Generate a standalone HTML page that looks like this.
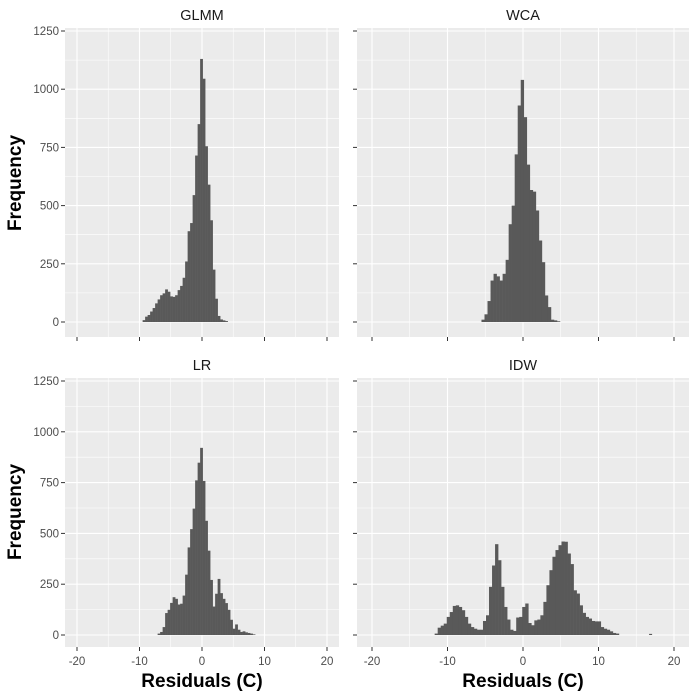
<!DOCTYPE html>
<html><head><meta charset="utf-8"><style>
html,body{margin:0;padding:0;background:#fff;}
svg{display:block;font-family:"Liberation Sans",Arial,sans-serif;}
</style></head><body>
<svg id="chart" width="699" height="698" viewBox="0 0 699 698" xmlns="http://www.w3.org/2000/svg"></svg>
<script>
const binWidth = 0.4;
const panelNames = ["GLMM","WCA","LR","IDW"];
const glmmStart = -9.3;
const glmmCounts = [8,23,30,45,60,80,97,115,123,140,130,110,108,115,137,155,190,260,390,425,545,715,850,1130,1045,755,590,437,225,100,26,11,7,4];
const wcaStart = -5.3;
const wcaCounts = [10,33,90,178,207,196,178,207,267,420,500,720,930,1040,880,676,567,560,479,350,257,114,64,10,7,3];
const lrStart = -6.9;
const lrCounts = [7,15,39,108,124,158,186,178,150,154,194,297,431,521,622,761,848,921,758,562,415,271,140,203,276,206,178,157,124,75,31,52,26,15,18,13,10,7,3];
const idwStart = -11.5;
const idwCounts = [7,36,46,56,89,113,143,146,138,122,89,56,39,31,26,26,69,97,237,342,447,368,237,138,76,26,20,86,89,138,155,59,48,72,76,97,163,245,319,385,418,442,460,459,401,349,220,204,146,109,89,81,69,67,67,39,31,26,18,10,7];
const idwOutlierX = [16.9];
const idwOutlierCount = [3];
const xTicks = [-20,-10,0,10,20];
const xMinor = [-15,-5,5,15];
const yTicks = [0,250,500,750,1000,1250];
const yMinor = [125,375,625,875,1125];

const NS="http://www.w3.org/2000/svg";
const svg=document.getElementById('chart');
function mk(tag,attrs,parent){const e=document.createElementNS(NS,tag);for(const k in attrs)e.setAttribute(k,attrs[k]);(parent||svg).appendChild(e);return e;}

const panels=[
 {name:panelNames[0],start:glmmStart,counts:glmmCounts,x0:65,x1:339,y0:28,y1:337,zero:202,xs:6.25,base:322,ys:291/1250,showX:false,showY:true},
 {name:panelNames[1],start:wcaStart,counts:wcaCounts,x0:357,x1:689,y0:28,y1:337,zero:523,xs:7.55,base:322,ys:291/1250,showX:false,showY:false},
 {name:panelNames[2],start:lrStart,counts:lrCounts,x0:65,x1:339,y0:378,y1:647,zero:202,xs:6.25,base:635,ys:254/1250,showX:true,showY:true},
 {name:panelNames[3],start:idwStart,counts:idwCounts,x0:357,x1:689,y0:378,y1:647,zero:523,xs:7.55,base:635,ys:254/1250,showX:true,showY:false,outX:idwOutlierX,outC:idwOutlierCount}
];

panels.forEach(p=>{
  const sx=v=>p.zero+v*p.xs;
  const sy=v=>p.base-v*p.ys;
  const slug=p.name.toLowerCase();
  const g=mk('g',{});
  
  
  const bg=mk('rect',{x:p.x0,y:p.y0,width:p.x1-p.x0,height:p.y1-p.y0,fill:'#EBEBEB'},g);
  
  
  xMinor.forEach(v=>mk('line',{x1:sx(v),x2:sx(v),y1:p.y0,y2:p.y1,stroke:'#fff','stroke-width':0.55},g));
  yMinor.forEach(v=>mk('line',{x1:p.x0,x2:p.x1,y1:sy(v),y2:sy(v),stroke:'#fff','stroke-width':0.55},g));
  xTicks.forEach(v=>mk('line',{x1:sx(v),x2:sx(v),y1:p.y0,y2:p.y1,stroke:'#fff','stroke-width':1.1},g));
  yTicks.forEach(v=>mk('line',{x1:p.x0,x2:p.x1,y1:sy(v),y2:sy(v),stroke:'#fff','stroke-width':1.1},g));
  p.counts.forEach((c,i)=>{
    const left=p.start+i*binWidth-binWidth/2;
    const r=mk('rect',{x:sx(left),y:sy(c),width:binWidth*p.xs+0.3,height:c*p.ys,fill:'#595959'},g);
    
    
  });
  if(p.outX){p.outX.forEach((v,i)=>{
    const r=mk('rect',{x:sx(v-binWidth/2),y:sy(p.outC[i])-0.5,width:binWidth*p.xs,height:p.outC[i]*p.ys+0.5,fill:'#595959'},g);
    
    
  });}
  // strip title
  const t=mk('text',{x:(p.x0+p.x1)/2,y:p.y0-8,'text-anchor':'middle','font-size':14.5,fill:'#1A1A1A'},g);
  t.textContent=p.name;
  
  
  // ticks
  xTicks.forEach(v=>{
    mk('line',{x1:sx(v),x2:sx(v),y1:p.y1,y2:p.y1+4,stroke:'#333','stroke-width':1},g);
    if(p.showX){
      const l=mk('text',{x:sx(v),y:p.y1+18,'text-anchor':'middle','font-size':11.5,fill:'#4D4D4D'},g);
      l.textContent=v;
      
      
    }
  });
  yTicks.forEach(v=>{
    mk('line',{x1:p.x0-4,x2:p.x0,y1:sy(v),y2:sy(v),stroke:'#333','stroke-width':1},g);
    if(p.showY){
      const l=mk('text',{x:p.x0-6,y:sy(v)+4,'text-anchor':'end','font-size':11.5,fill:'#4D4D4D'},g);
      l.textContent=v;
      
      
    }
  });
});

[[183],[512]].forEach(([cy],i)=>{
  const t=mk('text',{x:0,y:0,transform:`translate(21,${cy}) rotate(-90)`,'text-anchor':'middle','font-size':19,'font-weight':'bold',fill:'#000'});
  t.textContent='Frequency';
  
  
});
[202,523].forEach(cx=>{
  const t=mk('text',{x:cx,y:687,'text-anchor':'middle','font-size':19,'font-weight':'bold',fill:'#000'});
  t.textContent='Residuals (C)';
  
  
});
</script>
</body></html>
